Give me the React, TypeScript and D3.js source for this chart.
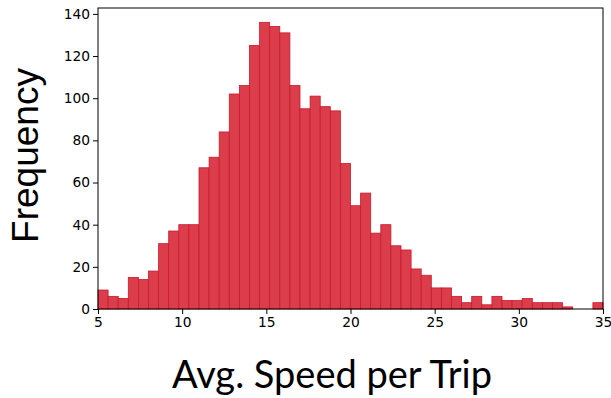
import React, { useEffect, useRef } from 'react';
import * as d3 from 'd3';

// histogram: 50 bins from 5 to 35 (width 0.6)
const binStart = 5;
const binEnd = 35;
const counts = [
  9, 6, 5, 15, 14, 18, 31, 37, 40, 40,
  67, 72, 84, 102, 106, 125, 136, 134, 131, 106,
  95, 101, 96, 94, 69, 49, 55, 36, 40, 30,
  28, 19, 16, 10, 10, 6, 3, 6, 2, 6,
  4, 4, 5, 3, 3, 3, 1, 0, 0, 3,
];
const xTicks = [5, 10, 15, 20, 25, 30, 35];
const yTicks = [0, 20, 40, 60, 80, 100, 120, 140];
const xLabel = 'Avg. Speed per Trip';
const yLabel = 'Frequency';

const App = () => {
  const ref = useRef<SVGSVGElement>(null);

  useEffect(() => {
    if (!ref.current) return;
    const width = 611;
    const height = 398;
    const left = 98, right = 603, top = 8, bottom = 309;

    const svg = d3.select(ref.current);
    svg.selectAll('*').remove();
    svg.attr('width', width).attr('height', height);

    const x = d3.scaleLinear().domain([binStart, binEnd]).range([left, right]);
    const y = d3.scaleLinear().domain([0, 142.8]).range([bottom, top]);
    const binW = (binEnd - binStart) / counts.length;

    // bars
    svg.append('g')
      .selectAll('rect')
      .data(counts)
      .join('rect')
      .attr('x', (d, i) => x(binStart + i * binW))
      .attr('y', d => y(d))
      .attr('width', x(binStart + binW) - x(binStart))
      .attr('height', d => bottom - y(d))
      .attr('fill', '#dc3d4b')
      .attr('stroke', '#c8192c')
      .attr('stroke-width', 0.8);

    // axes
    const xAxis = d3.axisBottom(x).tickValues(xTicks).tickSize(5).tickPadding(3);
    const yAxis = d3.axisLeft(y).tickValues(yTicks).tickSize(5).tickPadding(3);

    const gx = svg.append('g')
      .attr('transform', `translate(0, ${bottom})`)
      .call(xAxis);
    const gy = svg.append('g')
      .attr('transform', `translate(${left}, 0)`)
      .call(yAxis);
    [gx, gy].forEach(g => {
      g.select('.domain').remove();
      g.selectAll('text')
        .style('font-family', 'DejaVu Sans')
        .style('font-size', '13.8px')
        .attr('fill', '#000');
      g.selectAll('line').attr('stroke', '#000');
    });

    // frame
    svg.append('rect')
      .attr('x', left)
      .attr('y', top)
      .attr('width', right - left)
      .attr('height', bottom - top)
      .attr('fill', 'none')
      .attr('stroke', '#000')
      .attr('stroke-width', 1);

    // labels
    svg.append('text')
      .attr('x', 332)
      .attr('y', 388)
      .attr('text-anchor', 'middle')
      .style('font-family', 'Lato')
      .style('font-size', '38px')
      .attr('fill', '#000')
      .text(xLabel);

    svg.append('text')
      .attr('transform', `translate(38, ${(68 + 243) / 2}) rotate(-90)`)
      .attr('text-anchor', 'middle')
      .style('font-family', 'Liberation Sans')
      .style('font-size', '37px')
      .attr('fill', '#000')
      .text(yLabel);
  }, []);

  return (
    <svg ref={ref} style={{ position: 'absolute', left: 0, top: 0, display: 'block' }} />
  );
};

export default App;
